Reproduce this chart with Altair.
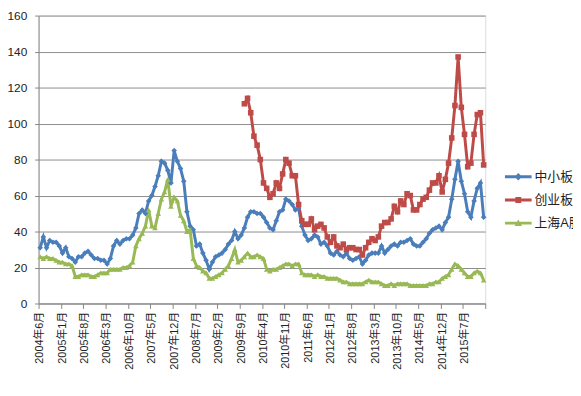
import altair as alt
import pandas as pd

tick_labels = ["2004年6月", "2005年1月", "2005年8月", "2006年3月", "2006年10月",
               "2007年5月", "2007年12月", "2008年7月", "2009年2月", "2009年9月",
               "2010年4月", "2010年11月", "2011年6月", "2012年1月", "2012年8月",
               "2013年3月", "2013年10月", "2014年5月", "2014年12月", "2015年7月"]

series = ["中小板", "创业板", "上海A股"]
colors = ["#4A7EBB", "#BE4B48", "#98B954"]
shapes = ["diamond", "square", "triangle-up"]
# legend symbols: a line segment with the series marker in its middle
legend_paths = [
    "M-1,-0.11H1V0.11H-1Z M0,-0.28L0.28,0L0,0.28L-0.28,0Z",
    "M-1,-0.11H1V0.11H-1Z M-0.22,-0.22H0.22V0.22H-0.22Z",
    "M-1,-0.11H1V0.11H-1Z M0,-0.28L0.28,0.22H-0.28Z",
]

# monthly values from 2004-06 (140 months)
zxb = [31, 37, 31, 35, 34, 34, 32, 28, 31, 26,
       25, 23, 26, 26, 28, 29, 27, 25, 25, 24,
       24, 22, 25, 32, 35, 33, 35, 36, 36, 38,
       42, 50, 52, 50, 57, 60, 65, 71, 79, 78,
       74, 67, 85, 79, 75, 68, 51, 43, 41, 32,
       33, 28, 24, 19, 23, 26, 27, 28, 30, 33,
       35, 40, 36, 38, 42, 48, 51, 51, 50, 50,
       48, 45, 42, 41, 46, 51, 52, 58, 57, 55,
       52, 53, 43, 38, 35, 36, 38, 37, 33, 34,
       32, 28, 27, 29, 27, 26, 28, 25, 24, 25,
       26, 22, 24, 27, 28, 28, 28, 32, 28, 30,
       32, 33, 32, 34, 34, 35, 36, 33, 32, 32,
       34, 36, 39, 41, 42, 43, 41, 45, 48, 58,
       69, 79, 68, 61, 51, 48, 57, 64, 67, 48]

cyb_start = 64  # 2009-10
cyb = [111, 114, 106, 93, 88, 80, 67, 64, 59, 61,
       67, 64, 72, 80, 78, 71, 71, 55, 46, 44,
       44, 47, 41, 43, 44, 42, 37, 34, 37, 32,
       31, 33, 30, 31, 31, 30, 30, 27, 31, 34,
       36, 35, 37, 43, 45, 45, 47, 54, 51, 57,
       55, 61, 60, 52, 52, 55, 58, 59, 63, 67,
       67, 71, 62, 69, 78, 92, 110, 137, 109, 94,
       76, 78, 94, 105, 106, 77]

sha = [26, 25, 26, 25, 25, 24, 23, 23, 22, 22,
       21, 15, 15, 16, 16, 16, 15, 15, 16, 17,
       17, 17, 19, 19, 19, 19, 20, 20, 21, 23,
       32, 36, 39, 43, 52, 43, 42, 50, 58, 62,
       69, 54, 59, 57, 49, 46, 40, 41, 25, 21,
       20, 18, 17, 14, 14, 15, 16, 17, 19, 21,
       25, 30, 23, 24, 26, 28, 26, 26, 27, 26,
       25, 19, 18, 19, 19, 20, 21, 22, 22, 21,
       22, 22, 17, 16, 16, 16, 15, 16, 15, 15,
       14, 14, 14, 14, 13, 12, 12, 11, 11, 11,
       11, 11, 12, 13, 12, 12, 12, 11, 10, 10,
       11, 10, 11, 11, 11, 11, 10, 10, 10, 10,
       10, 10, 11, 11, 12, 12, 14, 15, 16, 19,
       22, 21, 19, 17, 15, 15, 17, 18, 17, 13]

rows = []
for i, v in enumerate(zxb):
    rows.append({"t": i + 0.5, "s": "中小板", "v": v})
for i, v in enumerate(cyb):
    rows.append({"t": cyb_start + i + 0.5, "s": "创业板", "v": v})
for i, v in enumerate(sha):
    rows.append({"t": i + 0.5, "s": "上海A股", "v": v})
df = pd.DataFrame(rows)
df["lg"] = df["s"]

FONT = "Liberation Sans, Noto Sans CJK SC, sans-serif"
labels_js = "[" + ",".join("'" + l + "'" for l in tick_labels) + "]"
label_expr = "datum.value < 140 ? " + labels_js + "[round(datum.value / 7)] : ''"

x = alt.X("t:Q", scale=alt.Scale(domain=[0, 140], nice=False, zero=False),
          axis=alt.Axis(values=list(range(0, 141, 7)), labelExpr=label_expr,
                        labelAngle=-90, title=None, grid=False, tickSize=5,
                        labelPadding=3, labelOffset=1.5, labelFont=FONT,
                        labelFontSize=11, labelColor="#222222",
                        domainColor="#868686", tickColor="#868686",
                        labelOverlap=False, labelBound=False))
y = alt.Y("v:Q", scale=alt.Scale(domain=[0, 160], nice=False),
          axis=alt.Axis(values=list(range(0, 161, 20)), title=None, grid=True,
                        gridColor="#8c8c8c", gridWidth=1, tickSize=4,
                        labelPadding=8, labelFont=FONT, labelFontSize=12,
                        labelColor="#222222", domainColor="#868686",
                        tickColor="#868686"))

col = alt.Scale(domain=series, range=colors)

line = alt.Chart(df).mark_line(strokeWidth=3).encode(
    x=x, y=y,
    color=alt.Color("s:N", scale=col, legend=None),
    order="t:Q",
)

pts = alt.Chart(df).mark_point(filled=True, size=32, opacity=1).encode(
    x=x, y=y,
    color=alt.Color("s:N", scale=col, legend=None),
    shape=alt.Shape("s:N", scale=alt.Scale(domain=series, range=shapes), legend=None),
)

legend_cfg = dict(title=None, orient="none", legendX=473, legendY=150,
                  symbolSize=729, symbolStrokeWidth=0, symbolOpacity=1,
                  labelFont=FONT, labelFontSize=13, labelColor="#222222",
                  labelOffset=3, rowPadding=2.5, padding=0)

leg = alt.Chart(df).transform_filter("datum.v < 0").mark_point(
    filled=True, opacity=1, strokeWidth=0).encode(
    x=x, y=y,
    color=alt.Color("lg:N", scale=alt.Scale(domain=series, range=colors),
                    legend=alt.Legend(**legend_cfg)),
    shape=alt.Shape("lg:N", scale=alt.Scale(domain=series, range=legend_paths),
                    legend=alt.Legend(**legend_cfg)),
)

chart = alt.layer(line, pts, leg).resolve_scale(
    color="independent", shape="independent").properties(
    width=453, height=292, autosize="none",
    padding={"left": 31, "top": 5, "right": 89, "bottom": 83},
).configure_view(stroke=None).configure(background="white")

chart.save("out.html", embed_options={"renderer": "svg", "actions": False})
